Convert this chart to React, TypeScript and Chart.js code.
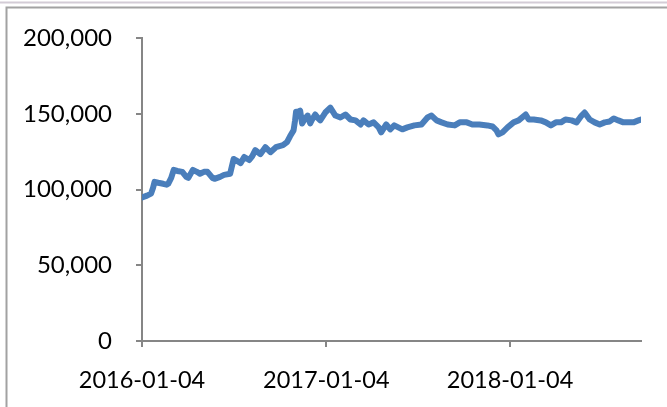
import React, { useEffect, useRef } from "react";
import { Chart, registerables } from "chart.js";

Chart.register(...registerables);

const dates: string[] = [
  "2016-01-04", "2016-01-14", "2016-01-22", "2016-01-26", "2016-01-29", "2016-02-05", "2016-02-15", "2016-02-22",
  "2016-02-25", "2016-03-02", "2016-03-07", "2016-03-14", "2016-03-24", "2016-04-01", "2016-04-05", "2016-04-14",
  "2016-04-22", "2016-04-28", "2016-05-06", "2016-05-13", "2016-05-23", "2016-05-27", "2016-06-07", "2016-06-15",
  "2016-06-27", "2016-07-04", "2016-07-08", "2016-07-18", "2016-07-25", "2016-08-04", "2016-08-10", "2016-08-16",
  "2016-08-26", "2016-09-05", "2016-09-15", "2016-09-26", "2016-10-03", "2016-10-10", "2016-10-18", "2016-10-24",
  "2016-10-31", "2016-11-03", "2016-11-05", "2016-11-09", "2016-11-13", "2016-11-17", "2016-11-23", "2016-11-28",
  "2016-12-03", "2016-12-07", "2016-12-13", "2016-12-19", "2016-12-23", "2017-01-02", "2017-01-12", "2017-01-22",
  "2017-02-01", "2017-02-11", "2017-02-21", "2017-03-03", "2017-03-13", "2017-03-19", "2017-03-29", "2017-04-08",
  "2017-04-18", "2017-04-23", "2017-05-03", "2017-05-11", "2017-05-19", "2017-05-27", "2017-06-04", "2017-06-14",
  "2017-06-28", "2017-07-12", "2017-07-24", "2017-08-01", "2017-08-11", "2017-08-21", "2017-09-02", "2017-09-16",
  "2017-09-26", "2017-10-10", "2017-10-21", "2017-11-04", "2017-11-20", "2017-11-30", "2017-12-08", "2017-12-12",
  "2017-12-20", "2017-12-30", "2018-01-11", "2018-01-21", "2018-02-04", "2018-02-10", "2018-02-20", "2018-03-06",
  "2018-03-16", "2018-03-26", "2018-04-05", "2018-04-15", "2018-04-24", "2018-05-06", "2018-05-16", "2018-05-26",
  "2018-06-01", "2018-06-11", "2018-06-21", "2018-07-01", "2018-07-11", "2018-07-21", "2018-07-29", "2018-08-07",
  "2018-08-17", "2018-08-27", "2018-09-06", "2018-09-16", "2018-09-21",
];

const values: number[] = [
  94800, 96100, 97400, 101300, 105200, 104600, 103900, 103300,
  103900, 107800, 113100, 112400, 111800, 108500, 107800, 113100,
  111800, 110500, 111800, 111800, 107800, 107200, 108500, 109800,
  110500, 120300, 119600, 117600, 121600, 119600, 122200, 126100,
  123500, 128100, 124800, 128100, 128800, 129400, 131400, 135300,
  139200, 145800, 151600, 151600, 152300, 143800, 147100, 149000,
  143800, 146400, 149700, 147100, 145800, 151000, 154200, 149000,
  147700, 149700, 146400, 145800, 143100, 145800, 143100, 144500,
  141200, 137900, 143100, 139900, 142500, 141200, 139900, 141200,
  142500, 143100, 147700, 149000, 145800, 144500, 143100, 142500,
  144500, 144500, 143100, 143100, 142500, 141800, 139200, 136600,
  137900, 141200, 144500, 145800, 149700, 146400, 146400, 145800,
  144500, 142500, 144500, 144500, 146400, 145800, 144500, 149000,
  151000, 146400, 144500, 143100, 144500, 145100, 147100, 145800,
  144500, 144500, 144500, 145800, 146400,
];

const tickLabels: string[] = ["2016-01-04", "2017-01-04", "2018-01-04"];

const DAY = 86400000;
const origin = Date.parse(dates[0]);
const toDay = (d: string) => Math.round((Date.parse(d) - origin) / DAY);

export default function App() {
  const ref = useRef<HTMLCanvasElement | null>(null);

  useEffect(() => {
    if (!ref.current) return;
    const tickDays = tickLabels.map(toDay);
    const frame = {
      id: "frame",
      beforeDraw(chart: any) {
        const ctx = chart.ctx;
        ctx.save();
        ctx.fillStyle = "#ffffff";
        ctx.fillRect(0, 0, chart.width, chart.height);
        ctx.strokeStyle = "#d3ccd6";
        ctx.lineWidth = 2;
        ctx.beginPath();
        ctx.moveTo(0, 2.5);
        ctx.lineTo(chart.width, 2.5);
        ctx.stroke();
        ctx.strokeStyle = "#a2a2a2";
        ctx.lineWidth = 2;
        ctx.beginPath();
        ctx.moveTo(chart.width, 7.5);
        ctx.lineTo(6.5, 7.5);
        ctx.lineTo(6.5, chart.height);
        ctx.stroke();
        ctx.restore();
      },
    };
    const chart = new Chart(ref.current, {
      type: "line",
      data: {
        datasets: [
          {
            data: dates.map((d, i) => ({ x: toDay(d), y: values[i] })),
            borderColor: "#4A7EBB",
            backgroundColor: "#4A7EBB",
            borderWidth: 6,
            pointRadius: 0,
            tension: 0,
            borderJoinStyle: "round",
            borderCapStyle: "round",
          },
        ],
      },
      options: {
        animation: false,
        responsive: false,
        devicePixelRatio: 1,
        layout: { padding: { top: 35, right: 26, left: 0, bottom: 0 } },
        plugins: { legend: { display: false }, tooltip: { enabled: false } },
        scales: {
          x: {
            type: "linear",
            min: 0,
            max: toDay(dates[dates.length - 1]),
            afterBuildTicks: (scale: any) => {
              scale.ticks = tickDays.map((v) => ({ value: v }));
            },
            afterFit: (scale: any) => {
              scale.height = 66;
            },
            grid: { display: true, drawOnChartArea: false, drawTicks: true, tickLength: 6, color: "#868686", lineWidth: 2 },
            border: { display: true, color: "#868686", width: 2 },
            ticks: {
              autoSkip: false,
              maxRotation: 0,
              padding: 19,
              color: "#000000",
              font: { family: "Lato", size: 23.5 },
              callback: (v: any) => {
                const i = tickDays.indexOf(Number(v));
                return i >= 0 ? tickLabels[i] : "";
              },
            },
          },
          y: {
            min: 0,
            max: 200000,
            afterFit: (scale: any) => {
              scale.width = 142;
            },
            grid: { display: true, drawOnChartArea: false, drawTicks: true, tickLength: 6, color: "#868686", lineWidth: 2 },
            border: { display: true, color: "#868686", width: 2 },
            ticks: {
              stepSize: 50000,
              padding: 24,
              color: "#000000",
              font: { family: "Lato", size: 24 },
              callback: (v: any) => Number(v).toLocaleString("en-US"),
            },
          },
        },
      },
      plugins: [frame],
    } as any);
    return () => chart.destroy();
  }, []);

  return (
    <div style={{ position: "absolute", left: 0, top: 0, width: 667, height: 407 }}>
      <canvas ref={ref} width={667} height={407} />
    </div>
  );
}
